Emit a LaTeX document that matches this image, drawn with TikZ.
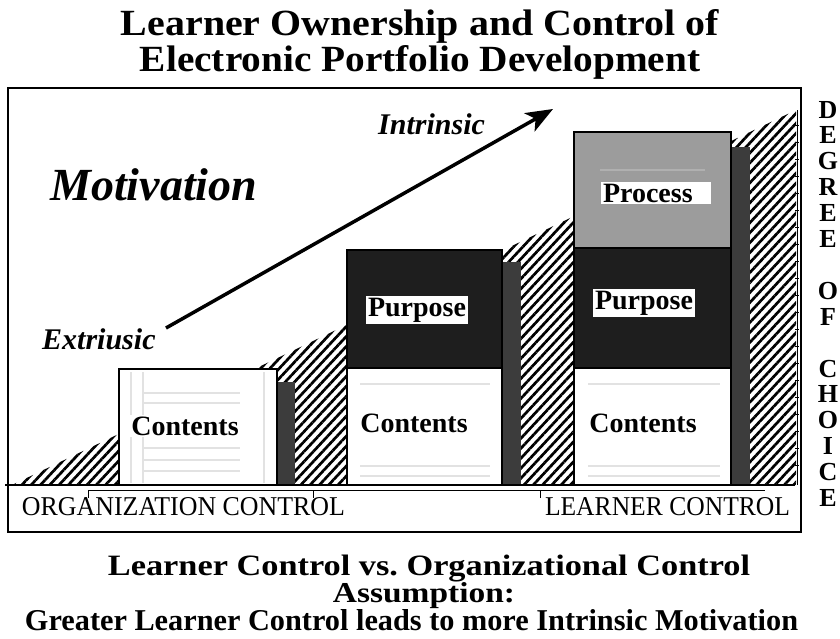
\documentclass[tikz,border=0pt]{standalone}
\usepackage{fontspec}
\setmainfont{Liberation Serif}
\usetikzlibrary{patterns.meta,arrows.meta}
\definecolor{darkfill}{HTML}{1E1E1E}
\definecolor{procfill}{HTML}{9C9C9C}
\definecolor{shadowfill}{HTML}{3C3C3C}
\definecolor{faint}{HTML}{E2E2E2}
\frenchspacing
\tikzset{
  hatch/.style={pattern={Lines[angle=47,distance=6.8pt,line width=2.7pt]},pattern color=black},
  barbox/.style={draw=black,line width=1.3pt},
  shadowbar/.style={fill=shadowfill,draw=shadowfill,line width=0.5pt},
  faintline/.style={draw=faint,line width=1.6pt},
  lbl/.style={fill=white,inner sep=2pt,font=\fontsize{28}{28}\selectfont\bfseries},
  motif/.style={font=\fontsize{30}{30}\selectfont\bfseries\itshape,inner sep=0pt,anchor=base west},
  axislbl/.style={inner sep=0pt,anchor=base},
  sidelbl/.style={inner sep=0pt,anchor=base,font=\fontsize{26}{26}\selectfont\bfseries},
}
\begin{document}
\begin{tikzpicture}[x=1pt,y=-1pt]
\useasboundingbox (0,0) rectangle (840,638);
\fill[white] (0,0) rectangle (840,638);

% titles
\node[axislbl] (t1) at (420,35) {\resizebox{598pt}{26pt}{\bfseries Learner Ownership and Control of}};
\node[axislbl] (t2) at (420,71) {\resizebox{560pt}{26pt}{\bfseries Electronic Portfolio Development}};

% frame
\draw[line width=1.6pt] (8,88) rectangle (801,532);

% ramp hatch
\fill[hatch] (12,485) -- (796,110) -- (796,485) -- cycle;
\draw[line width=0.8pt] (797,110) -- (797,485);
\foreach \yy in {125,142,...,480} \draw[line width=0.6pt] (795,\yy) -- (799,\yy);

% bar 1
\fill[shadowbar] (277,382) rectangle (294,485);
\fill[white] (119,369) rectangle (277,485);
\draw[faintline] (131,372) -- (131,483);
\draw[faintline] (143,372) -- (143,483);
\draw[faintline] (264,372) -- (264,483);
\foreach \yy in {393,403,448,460,471} \draw[faintline] (143,\yy) -- (240,\yy);
\draw[barbox] (119,369) rectangle (277,485);

% bar 2
\fill[shadowbar] (502,262) rectangle (520,485);
\fill[darkfill] (347,250) rectangle (502,368);
\fill[white] (347,368) rectangle (502,485);
\foreach \yy in {384,466,476} \draw[faintline] (360,\yy) -- (490,\yy);
\draw[barbox] (347,250) rectangle (502,485);
\draw[barbox] (347,368) -- (502,368);

% bar 3
\fill[shadowbar] (731,147) rectangle (749,485);
\fill[procfill] (574,132) rectangle (731,248);
\fill[darkfill] (574,248) rectangle (731,368);
\fill[white] (574,368) rectangle (731,485);
\foreach \yy in {384,466,476} \draw[faintline] (588,\yy) -- (720,\yy);
\draw[draw=procfill!80!white,line width=1.2pt] (600,170) -- (705,170);
\draw[barbox] (574,132) rectangle (731,485);
\draw[barbox] (574,248) -- (731,248);
\draw[barbox] (574,368) -- (731,368);

% ground and control axis
\draw[line width=2pt] (5,485) -- (795,485);
\draw[line width=1pt] (88,490) -- (765,490);
\foreach \xx in {88,313,540} \draw[line width=1pt] (\xx,490) -- (\xx,498);

% bar labels
\node[lbl] (c1) at (185,426) {Contents};
\node[lbl] (p2) at (417,310) {Purpose};
\node[lbl] (c2) at (414,423) {Contents};
\node[lbl,text width=106pt,align=left] (r3) at (656,193) {Process};
\node[lbl] (p3) at (644,303) {Purpose};
\node[lbl] (c3) at (643,423) {Contents};

% motivation texts
\node[motif,font=\fontsize{46}{46}\selectfont\bfseries\itshape] (mot) at (50,200) {Motivation};
\node[motif] (intr) at (378,134) {Intrinsic};
\node[motif] (extr) at (42,349) {Extriusic};

% arrow
\coordinate (a0) at (166,328);
\coordinate (a1) at (553,109);
\draw[line width=3.5pt,-{Stealth[length=27pt,width=21pt,inset=7pt]}] (a0) -- (a1);

% axis labels
\node[axislbl] (org) at (183.5,515) {\resizebox{323pt}{18pt}{ORGANIZATION CONTROL}};
\node[axislbl] (lrn) at (667.5,515) {\resizebox{245pt}{18pt}{LEARNER CONTROL}};

% side label
\foreach \c/\i in {D/0,E/1,G/2,R/3,E/4,E/5,O/7,F/8,C/10,H/11,O/12,I/13,C/14,E/15}
  \node[sidelbl] (s\i) at (828,118+25.9*\i) {\c};

% bottom text
\node[axislbl] (b1) at (429,575) {\resizebox{642pt}{20.5pt}{\bfseries Learner Control vs. Organizational Control}};
\node[axislbl] (b2) at (424,602) {\resizebox{182pt}{20pt}{\bfseries Assumption:}};
\node[axislbl] (b3) at (411.5,630) {\resizebox{773pt}{21pt}{\bfseries Greater Learner Control leads to more Intrinsic Motivation}};
\end{tikzpicture}
\end{document}
